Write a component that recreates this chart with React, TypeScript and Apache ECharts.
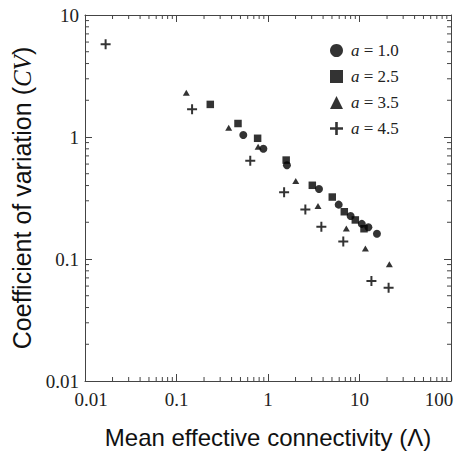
import React, { useEffect, useRef } from "react";
import * as echarts from "echarts";

// ---- data ----
const a10X = [0.537, 0.89, 1.61, 3.61, 5.92, 8.0, 10.6, 12.5, 15.5];
const a10Y = [1.04, 0.8, 0.586, 0.375, 0.279, 0.225, 0.194, 0.182, 0.161];
const a25X = [0.234, 0.47, 0.77, 1.58, 3.05, 5.04, 6.82, 9.0, 11.2];
const a25Y = [1.85, 1.29, 0.976, 0.647, 0.402, 0.322, 0.244, 0.209, 0.177];
const a35X = [0.128, 0.372, 0.78, 2.01, 3.52, 7.18, 11.6, 21.2];
const a35Y = [2.31, 1.19, 0.83, 0.436, 0.272, 0.178, 0.122, 0.0904];
const a45X = [0.0168, 0.148, 0.64, 1.5, 2.56, 3.83, 6.65, 13.5, 20.8];
const a45Y = [5.75, 1.69, 0.64, 0.352, 0.254, 0.184, 0.139, 0.066, 0.058];

const seriesNames = ["a = 1.0", "a = 2.5", "a = 3.5", "a = 4.5"];

const X_MIN = 0.01;
const X_MAX = 100;
const Y_MIN = 0.01;
const Y_MAX = 10;

// minor tick positions (multipliers 2..9 within each decade)
const minorMultipliers = [2, 3, 4, 5, 6, 7, 8, 9];
const xDecades = [0.01, 0.1, 1, 10];
const yDecades = [0.01, 0.1, 1];

const PLUS_PATH = "path://M4,0H6V4H10V6H6V10H4V6H0V4H4Z";
const AXIS_COLOR = "#444";
const SERIF = "'Liberation Serif', 'Times New Roman', serif";
const SANS = "'Liberation Sans', Arial, sans-serif";

const zip = (xs: number[], ys: number[]) => xs.map((x, i) => [x, ys[i]]);
const near = (a: number, b: number) => Math.abs(a - b) < 1e-9 * Math.max(1, Math.abs(b));

export default function App() {
  const ref = useRef<HTMLDivElement>(null);

  useEffect(() => {
    if (!ref.current) return;
    const chart = echarts.init(ref.current, undefined, { renderer: "svg" });

    const xMinor = xDecades.flatMap((d) => minorMultipliers.map((m) => +(m * d).toPrecision(3)));
    const yMinor = yDecades.flatMap((d) => minorMultipliers.map((m) => +(m * d).toPrecision(3)));

    const tickLine = (x1: number, y1: number, x2: number, y2: number) => ({
      type: "line",
      shape: { x1, y1, x2, y2 },
      style: { stroke: AXIS_COLOR, lineWidth: 1 },
    });

    const logAxisCommon = {
      type: "log",
      logBase: 10,
      axisLine: { show: true, lineStyle: { color: AXIS_COLOR, width: 1 } },
      axisTick: { show: true, inside: true, length: 7, lineStyle: { color: AXIS_COLOR, width: 1 } },
      splitLine: { show: false },
      minorTick: { show: false },
    };

    const labelFont = { fontFamily: SERIF, fontSize: 19, color: "#222" };

    const option: any = {
      animation: false,
      backgroundColor: "#fff",
      grid: { left: 85, top: 15, width: 366, height: 366, containLabel: false },
      legend: {
        orient: "vertical",
        left: 330,
        top: 42,
        padding: 0,
        itemWidth: 13,
        itemHeight: 13,
        itemGap: 9,
        selectedMode: false,
        data: [
          { name: seriesNames[0], icon: "circle" },
          { name: seriesNames[1], icon: "rect" },
          { name: seriesNames[2], icon: "triangle" },
          { name: seriesNames[3], icon: PLUS_PATH },
        ],
        formatter: (name: string) => name.replace(/^a/, "{i|a}"),
        textStyle: {
          fontFamily: SERIF,
          fontSize: 17,
          color: "#222",
          lineHeight: 13,
          padding: [0, 0, 0, 3],
          rich: { i: { fontStyle: "italic", fontFamily: SERIF, fontSize: 17, color: "#222", lineHeight: 13 } },
        },
      },
      xAxis: [
        {
          ...logAxisCommon,
          position: "bottom",
          min: X_MIN,
          max: X_MAX,
          name: "Mean effective connectivity (Λ)",
          nameLocation: "middle",
          nameGap: 44,
          nameTextStyle: { fontFamily: SANS, fontSize: 24, color: "#111" },
          axisLabel: {
            show: true,
            ...labelFont,
            margin: 9,
            formatter: (v: number) =>
              near(v, X_MIN) ? `{l|${X_MIN}}` : near(v, X_MAX) ? `{r|${X_MAX}}` : String(v),
            rich: {
              l: { ...labelFont, padding: [0, 0, 0, 12] },
              r: { ...labelFont, padding: [0, 24, 0, 0] },
            },
          },
        },
        {
          ...logAxisCommon,
          position: "top",
          min: X_MIN,
          max: X_MAX,
          axisLabel: { show: false },
        },
      ],
      yAxis: [
        {
          ...logAxisCommon,
          position: "left",
          min: Y_MIN,
          max: Y_MAX,
          name: "Coefficient of variation ({i|CV})",
          nameLocation: "middle",
          nameGap: 44,
          nameRotate: 90,
          nameTextStyle: {
            fontFamily: SANS,
            fontSize: 25,
            color: "#111",
            rich: { i: { fontFamily: SERIF, fontStyle: "italic", fontSize: 25, color: "#111" } },
          },
          axisLabel: { show: true, ...labelFont, margin: 6 },
        },
        {
          ...logAxisCommon,
          position: "right",
          min: Y_MIN,
          max: Y_MAX,
          axisLabel: { show: false },
        },
      ],
      series: [
        {
          type: "custom",
          silent: true,
          xAxisIndex: 0,
          yAxisIndex: 0,
          clip: false,
          data: xMinor.map((v) => [v, Y_MIN]),
          renderItem: (_p: any, api: any) => {
            const v = api.value(0);
            const b = api.coord([v, Y_MIN]);
            const t = api.coord([v, Y_MAX]);
            return {
              type: "group",
              children: [tickLine(b[0], b[1], b[0], b[1] - 4), tickLine(t[0], t[1], t[0], t[1] + 4)],
            };
          },
          z: 1,
        },
        {
          type: "custom",
          silent: true,
          xAxisIndex: 0,
          yAxisIndex: 0,
          clip: false,
          data: yMinor.map((v) => [X_MIN, v]),
          renderItem: (_p: any, api: any) => {
            const v = api.value(1);
            const l = api.coord([X_MIN, v]);
            const r = api.coord([X_MAX, v]);
            return {
              type: "group",
              children: [tickLine(l[0], l[1], l[0] + 4, l[1]), tickLine(r[0], r[1], r[0] - 4, r[1])],
            };
          },
          z: 1,
        },
        {
          name: seriesNames[0],
          type: "scatter",
          symbol: "circle",
          symbolSize: 8,
          itemStyle: { color: "#000" },
          data: zip(a10X, a10Y),
          z: 5,
        },
        {
          name: seriesNames[1],
          type: "scatter",
          symbol: "rect",
          symbolSize: 7.5,
          itemStyle: { color: "#000" },
          data: zip(a25X, a25Y),
          z: 4,
        },
        {
          name: seriesNames[2],
          type: "scatter",
          symbol: "triangle",
          symbolSize: [7, 6],
          itemStyle: { color: "#000" },
          data: zip(a35X, a35Y),
          z: 4,
        },
        {
          name: seriesNames[3],
          type: "scatter",
          symbol: PLUS_PATH,
          symbolSize: 10,
          itemStyle: { color: "#000" },
          data: zip(a45X, a45Y),
          z: 4,
        },
      ],
    };

    chart.setOption(option);
    return () => chart.dispose();
  }, []);

  return (
    <div
      ref={ref}
      style={{ position: "fixed", left: 0, top: 0, width: 467, height: 454, background: "#fff" }}
    />
  );
}
